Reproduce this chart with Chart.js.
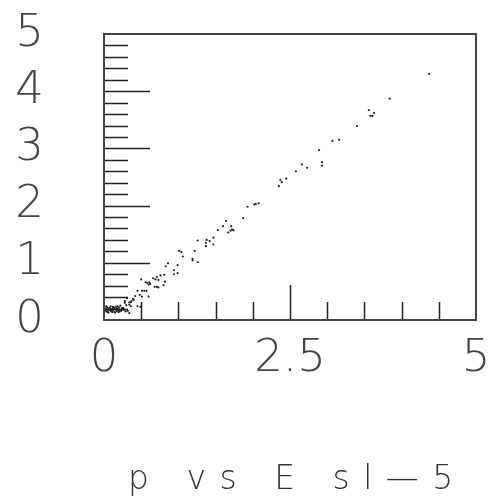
<!DOCTYPE html>
<html>
<head>
<meta charset="utf-8">
<script src="https://cdn.jsdelivr.net/npm/chart.js@4"></script>
<style>
  html, body { margin: 0; padding: 0; background: #fff; }
  #wrap { width: 493px; height: 499px; }
</style>
</head>
<body>
<div id="wrap"><canvas id="grafico_pe"></canvas></div>
<script>
// E (x) and p (y)
const energia = [4.37, 3.84, 3.56, 3.63, 3.58, 3.61, 3.40, 3.07, 3.16, 2.89, 2.93, 2.93, 2.66, 2.73, 2.58,
  2.45, 2.37, 2.39, 2.35, 2.08, 2.02, 2.04, 1.93, 1.87, 1.64, 1.60, 1.71, 1.72, 1.74, 1.70, 1.67, 1.53,
  1.47, 1.38, 1.42, 1.37, 1.37, 1.47, 1.26, 1.22, 1.01, 1.04, 1.06, 1.19, 1.19, 1.26, 0.99, 0.86, 0.83,
  0.94, 0.99, 0.94, 0.81, 0.82, 0.76, 0.71, 0.73, 0.69, 0.66, 0.61, 0.58, 0.56, 0.62, 0.60, 0.50, 0.71,
  0.73, 0.68, 0.80, 0.57, 0.54, 0.51, 0.45, 0.60, 0.51, 0.48, 0.42, 0.39, 0.37, 0.31, 0.28, 0.40, 0.36,
  0.34, 0.45, 0.49, 0.36, 0.34, 0.30, 0.28, 0.26, 0.24, 0.27, 0.29, 0.32, 0.34,
  0.02, 0.03, 0.04, 0.05, 0.06, 0.07, 0.08, 0.09, 0.10, 0.11, 0.12, 0.13, 0.14, 0.15, 0.16, 0.17, 0.18,
  0.19, 0.20, 0.21, 0.22, 0.23, 0.24, 0.25, 0.01, 0.03, 0.06, 0.09, 0.12, 0.15, 0.18, 0.21, 0.05, 0.08,
  0.11, 0.14, 0.17, 0.20];
const momento = [4.30, 3.87, 3.67, 3.62, 3.57, 3.57, 3.39, 3.13, 3.15, 2.97, 2.76, 2.70, 2.72, 2.66, 2.60,
  2.47, 2.45, 2.41, 2.34, 2.04, 2.02, 2.03, 1.98, 1.78, 1.73, 1.64, 1.64, 1.58, 1.57, 1.56, 1.53, 1.57,
  1.44, 1.40, 1.38, 1.35, 1.29, 1.32, 1.39, 1.21, 1.21, 1.19, 1.11, 1.07, 1.04, 1.01, 0.96, 0.99, 0.94,
  0.87, 0.82, 0.80, 0.79, 0.67, 0.78, 0.75, 0.70, 0.71, 0.73, 0.66, 0.65, 0.66, 0.63, 0.62, 0.71, 0.58,
  0.57, 0.58, 0.61, 0.51, 0.51, 0.51, 0.51, 0.41, 0.41, 0.44, 0.42, 0.37, 0.33, 0.38, 0.33, 0.35, 0.31,
  0.31, 0.24, 0.23, 0.24, 0.27, 0.26, 0.30, 0.21, 0.18, 0.18, 0.15, 0.16, 0.12,
  0.20, 0.15, 0.22, 0.17, 0.13, 0.21, 0.18, 0.24, 0.15, 0.20, 0.17, 0.22, 0.14, 0.19, 0.23, 0.16, 0.20,
  0.14, 0.22, 0.18, 0.25, 0.16, 0.21, 0.19, 0.17, 0.24, 0.19, 0.16, 0.23, 0.13, 0.24, 0.15, 0.14, 0.21,
  0.14, 0.21, 0.19, 0.17];
const ticksX = [0.5, 1, 1.5, 2, 2.5, 3, 3.5, 4, 4.5];
const ticksXMaior = [2.5];
const ticksY = [0.2, 0.4, 0.6, 0.8, 1, 1.2, 1.4, 1.6, 1.8, 2, 2.2, 2.4, 2.6, 2.8, 3, 3.2, 3.4, 3.6, 3.8,
  4, 4.2, 4.4, 4.6, 4.8];
const ticksYMaior = [1, 2, 3, 4];
const titulo = 'p vs E sl\u20145';

const fonte = "'DejaVu Sans', sans-serif";

const pontos = energia.map((e, i) => ({ x: e, y: momento[i] }));

// tira o padding automatico dos eixos, senao a area do grafico encolhe
function semPadding(s) {
  s.paddingTop = 0;
  s.paddingBottom = 0;
  s.paddingLeft = 0;
  s.paddingRight = 0;
}

// moldura + tracinhos pra dentro, estilo PAW
const moldura = {
  id: 'moldura',
  afterDatasetsDraw(chart) {
    const c = chart.ctx;
    const a = chart.chartArea;
    const sx = chart.scales.x, sy = chart.scales.y;
    c.save();
    c.strokeStyle = '#222';
    c.lineWidth = 1.5;
    ticksX.forEach(v => {
      const px = Math.round(sx.getPixelForValue(v)) + 0.5;
      const len = ticksXMaior.includes(v) ? 35 : 18;
      c.beginPath();
      c.moveTo(px, a.bottom);
      c.lineTo(px, a.bottom - len);
      c.stroke();
    });
    ticksY.forEach(v => {
      const py = Math.round(sy.getPixelForValue(v)) + 0.5;
      const len = ticksYMaior.includes(v) ? 46 : 24;
      c.beginPath();
      c.moveTo(a.left, py);
      c.lineTo(a.left + len, py);
      c.stroke();
    });
    c.strokeStyle = '#444';
    c.lineWidth = 2;
    c.strokeRect(a.left, a.top, a.right - a.left, a.bottom - a.top);
    c.restore();
  },
  afterDraw(chart) {
    const c = chart.ctx;
    c.save();
    c.font = '200 33px ' + fonte;
    c.fillStyle = '#333';
    c.letterSpacing = '13.5px';
    c.textAlign = 'left';
    c.textBaseline = 'alphabetic';
    c.fillText(titulo, 128, 489);
    c.restore();
  }
};

const ctx = document.getElementById('grafico_pe');

new Chart(ctx, {
  type: 'scatter',
  data: {
    datasets: [{
      label: 'p vs E',
      data: pontos,
      backgroundColor: '#222',
      borderWidth: 0,
      pointRadius: 1.1,
      pointHoverRadius: 1.1
    }]
  },
  options: {
    responsive: true,
    maintainAspectRatio: false,
    animation: false,
    layout: { padding: { top: 34, right: 17, left: 0, bottom: 0 } },
    plugins: {
      legend: { display: false },
      tooltip: { enabled: false }
    },
    scales: {
      x: {
        type: 'linear',
        min: 0,
        max: 5,
        grid: { display: false, drawTicks: false },
        border: { display: false },
        afterFit: s => { s.height = 179; semPadding(s); },
        ticks: {
          stepSize: 2.5,
          autoSkip: false,
          maxRotation: 0,
          padding: 12,
          color: '#444',
          font: { family: fonte, size: 45, weight: '200' }
        }
      },
      y: {
        type: 'linear',
        min: 0,
        max: 5,
        grid: { display: false, drawTicks: false },
        border: { display: false },
        afterFit: s => { s.width = 104; semPadding(s); },
        ticks: {
          stepSize: 1,
          autoSkip: false,
          padding: 60,
          color: '#444',
          font: { family: fonte, size: 45, weight: '200' }
        }
      }
    }
  },
  plugins: [moldura]
});
</script>
</body>
</html>
